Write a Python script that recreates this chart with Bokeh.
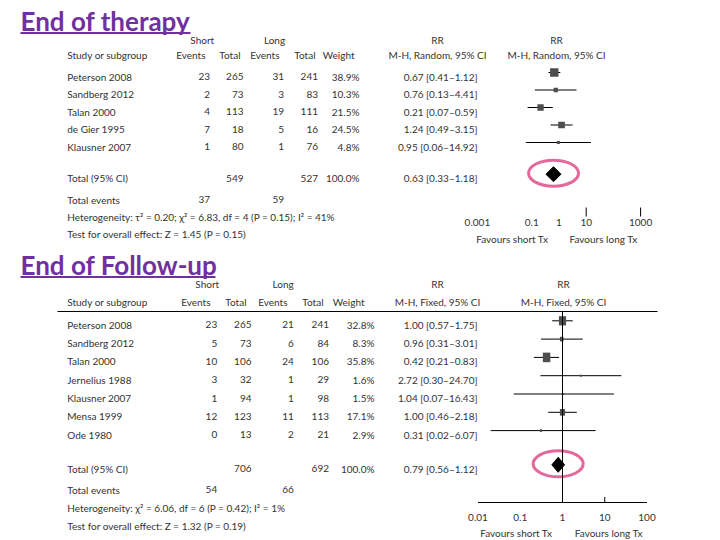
import math
from bokeh.plotting import figure
from bokeh.models import Range1d, LogScale
from bokeh.core.properties import value
from bokeh.embed import file_html
from bokeh.resources import INLINE

# ---------------- data: End of therapy ----------------
therapy_studies = ["Peterson 2008", "Sandberg 2012", "Talan 2000", "de Gier 1995", "Klausner 2007"]
therapy_short_events = [23, 2, 4, 7, 1]
therapy_short_total = [265, 73, 113, 18, 80]
therapy_long_events = [31, 3, 19, 5, 1]
therapy_long_total = [241, 83, 111, 16, 76]
therapy_weight = [38.9, 10.3, 21.5, 24.5, 4.8]
therapy_rr = [0.67, 0.76, 0.21, 1.24, 0.95]
therapy_lo = [0.41, 0.13, 0.07, 0.49, 0.06]
therapy_hi = [1.12, 4.41, 0.59, 3.15, 14.92]
therapy_totals = [549, 527]
therapy_pooled = [0.63, 0.33, 1.18]
therapy_events = [37, 59]
therapy_het = "Heterogeneity: τ² = 0.20; χ² = 6.83, df = 4 (P = 0.15); I² = 41%"
therapy_test = "Test for overall effect: Z = 1.45 (P = 0.15)"
therapy_tick_labels = [0.001, 0.1, 1, 10, 1000]
therapy_tick_marks = [10, 1000]

# ---------------- data: End of Follow-up ----------------
follow_studies = ["Peterson 2008", "Sandberg 2012", "Talan 2000", "Jernelius 1988",
                  "Klausner 2007", "Mensa 1999", "Ode 1980"]
follow_short_events = [23, 5, 10, 3, 1, 12, 0]
follow_short_total = [265, 73, 106, 32, 94, 123, 13]
follow_long_events = [21, 6, 24, 1, 1, 11, 2]
follow_long_total = [241, 84, 106, 29, 98, 113, 21]
follow_weight = [32.8, 8.3, 35.8, 1.6, 1.5, 17.1, 2.9]
follow_rr = [1.00, 0.96, 0.42, 2.72, 1.04, 1.00, 0.31]
follow_lo = [0.57, 0.31, 0.21, 0.30, 0.07, 0.46, 0.02]
follow_hi = [1.75, 3.01, 0.83, 24.70, 16.43, 2.18, 6.07]
follow_totals = [706, 692]
follow_pooled = [0.79, 0.56, 1.12]
follow_events = [54, 66]
follow_het = "Heterogeneity: χ² = 6.06, df = 6 (P = 0.42); I² = 1%"
follow_test = "Test for overall effect: Z = 1.32 (P = 0.19)"
follow_tick_labels = [0.01, 0.1, 1, 10, 100]
follow_tick_marks = [10]

# ---------------- figure ----------------
W, H = 720, 540
X0, Y0 = 0, 0
p = figure(width=W, height=H, x_range=Range1d(X0, X0 + W), y_range=Range1d(Y0 + H, Y0),
           output_backend="svg", toolbar_location=None, min_border=0,
           x_axis_location=None, y_axis_location=None)
p.grid.visible = False
p.outline_line_color = None


def log_range(x_at_one, px_per_decade):
    lo = 10 ** ((X0 - x_at_one) / px_per_decade)
    hi = 10 ** ((X0 + W - x_at_one) / px_per_decade)
    return Range1d(lo, hi)


p.extra_x_ranges = {"top": log_range(558.5, 27.2), "bot": log_range(562.0, 42.25)}
p.extra_x_scales = {"top": LogScale(), "bot": LogScale()}

FONT = value("Lato")
TEXT = "#333333"
PURPLE = "#7030A0"
PINK = "#E5689C"
SQUARE = "#4d4d4d"


def txt(x, y, s, align="left", size="10px", color=TEXT, xr="default", style="normal"):
    if not isinstance(x, list):
        x, y, s = [x], [y], [s]
    p.text(x=x, y=y, text=s, text_align=align, text_baseline="middle",
           text_font_size=size, text_color=color, text_font=FONT,
           text_font_style=style, x_range_name=xr)


def fmt_ci(r, lo, hi):
    return f"{r:.2f} [{lo:.2f}\u2013{hi:.2f}]"


def section(L, title, studies, se, st, le, lt, wt, rr, lo, hi, totals, pooled, events,
            het, test, method, tick_labels, tick_marks):
    # title (underlined)
    p.text(x=[L["title_x"]], y=[L["title_y"]], text=[title], text_font=FONT,
           text_font_style="bold", text_font_size="26px", text_color=PURPLE,
           text_baseline="middle")
    p.segment(x0=[L["title_x"]], x1=[L["title_x1"]], y0=[L["uline_y"]],
              y1=[L["uline_y"]], line_color=PURPLE, line_width=2)
    c = L["cols"]
    hc = L["hcols"]
    # group headers
    txt(L["short_c"], L["gy"], "Short", "center")
    txt(L["long_c"], L["gy"], "Long", "center")
    txt(L["rr_c"], L["gy"], "RR", "center")
    txt(L["rr2_c"], L["gy"], "RR", "center")
    # column headers
    hy = L["hy"]
    txt(c["study"], hy, "Study or subgroup")
    txt([hc["se"], hc["st"], hc["le"], hc["lt"], hc["w"]], [hy] * 5,
        ["Events", "Total", "Events", "Total", "Weight"], "right")
    txt(L["rr_c"], hy, method, "center")
    txt(L["rr2_c"], hy, method, "center")
    # rows
    n = len(studies)
    ys = [L["row0"] + i * L["dy"] for i in range(n)]
    txt([c["study"]] * n, ys, studies)
    txt([c["se"]] * n, ys, [str(v) for v in se], "right")
    txt([c["st"]] * n, ys, [str(v) for v in st], "right")
    txt([c["le"]] * n, ys, [str(v) for v in le], "right")
    txt([c["lt"]] * n, ys, [str(v) for v in lt], "right")
    txt([c["w"]] * n, ys, [f"{v:.1f}%" for v in wt], "right")
    txt([c["rr"]] * n, ys, [fmt_ci(a, b, d) for a, b, d in zip(rr, lo, hi)], "right")
    # totals
    ty = L["ty"]
    txt(c["study"], ty, "Total (95% CI)")
    txt(c["st"], ty, str(totals[0]), "right")
    txt(c["lt"], ty, str(totals[1]), "right")
    txt(c["w"], ty, f"{sum(wt):.1f}%", "right")
    txt(c["rr"], ty, fmt_ci(*pooled), "right")
    txt(c["study"], L["ey"], "Total events")
    txt([c["se"], c["le"]], [L["ey"]] * 2, [str(v) for v in events], "right")
    txt(c["study"], L["hety"], het)
    txt(c["study"], L["testy"], test)

    # forest plot
    xr = L["xr"]
    my = [y + L["moff"] for y in ys]
    p.segment(x0=lo, x1=hi, y0=my, y1=my, line_color="black", line_width=1, x_range_name=xr)
    ws = [max(L["minsq"], L["kw"] * math.sqrt(w)) for w in wt]
    hs = [max(L["minsq"], L["kh"] * math.sqrt(w)) for w in wt]
    p.rect(x=rr, y=my, width=ws, height=hs, width_units="screen", height_units="screen",
           fill_color=SQUARE, line_color=None, x_range_name=xr)
    dy = ty + L["moff"]
    est, plo, phi = pooled
    p.patch(x=[plo, est, phi, est], y=[dy, dy - 7.5, dy, dy + 7.5], fill_color="black",
            line_color="black", x_range_name=xr)
    p.ellipse(x=[est], y=[dy - 1], width=[50], height=[26], width_units="screen",
              height_units="screen", fill_color=None, line_color=PINK, line_width=3,
              x_range_name=xr)
    # axis
    ay = L["axis_y"]
    if L["axis_line"]:
        p.segment(x0=[tick_labels[0]], x1=[tick_labels[-1]], y0=[ay], y1=[ay],
                  line_color="black", line_width=1, x_range_name=xr)
        p.segment(x0=[1], x1=[1], y0=[L["vline_top"]], y1=[ay], line_color="black",
                  line_width=1, x_range_name=xr)
    p.segment(x0=tick_marks, x1=tick_marks, y0=[L["tick_y0"]] * len(tick_marks),
              y1=[L["tick_y1"]] * len(tick_marks), line_color="black", line_width=1,
              x_range_name=xr)
    txt(tick_labels, [L["label_y"]] * len(tick_labels), [f"{v:g}" for v in tick_labels],
        "center", xr=xr)
    txt([L["fav_short"], L["fav_long"]], [L["fav_y"]] * 2,
        ["Favours short Tx", "Favours long Tx"], "center")


top_layout = dict(
    title_x=20, title_x1=190, title_y=20, uline_y=32.5,
    short_c=201.7, long_c=274, rr_c=437, rr2_c=556, gy=39, hy=54,
    cols=dict(study=66.7, se=209.5, st=243, le=283.5, lt=317.5, w=359, rr=477),
    hcols=dict(se=205, st=240, le=279, lt=315, w=354),
    row0=76, dy=17.5, ty=177.7, ey=199, hety=216, testy=233.7,
    xr="top", moff=-4, kw=1.35, kh=1.35, minsq=2.6,
    axis_line=False, axis_y=216, vline_top=0, tick_y0=207, tick_y1=216,
    label_y=222, fav_short=511.7, fav_long=603, fav_y=238,
)
section(top_layout, "End of therapy", therapy_studies, therapy_short_events,
        therapy_short_total, therapy_long_events, therapy_long_total, therapy_weight,
        therapy_rr, therapy_lo, therapy_hi, therapy_totals, therapy_pooled, therapy_events,
        therapy_het, therapy_test, "M-H, Random, 95% CI", therapy_tick_labels,
        therapy_tick_marks)

bot_layout = dict(
    title_x=20, title_x1=215, title_y=264, uline_y=276.5,
    short_c=206.7, long_c=282.7, rr_c=437, rr2_c=563, gy=283.3, hy=301.7,
    cols=dict(study=66.7, se=216.7, st=251, le=293.3, lt=328.5, w=374, rr=477),
    hcols=dict(se=210, st=246, le=287, lt=323, w=364),
    row0=324.3, dy=18.3, ty=468.3, ey=489.3, hety=507.3, testy=525.7,
    xr="bot", moff=-4, kw=1.25, kh=1.6, minsq=2.0,
    axis_line=True, axis_y=502, vline_top=311, tick_y0=496.5, tick_y1=502,
    label_y=517.3, fav_short=515.7, fav_long=608.3, fav_y=532,
)
section(bot_layout, "End of Follow-up", follow_studies, follow_short_events,
        follow_short_total, follow_long_events, follow_long_total, follow_weight,
        follow_rr, follow_lo, follow_hi, follow_totals, follow_pooled, follow_events,
        follow_het, follow_test, "M-H, Fixed, 95% CI", follow_tick_labels,
        follow_tick_marks)

# header rule of the follow-up table
p.segment(x0=[57], x1=[657], y0=[311], y1=[311], line_color="black", line_width=1)

open("out.html", "w").write(file_html(p, INLINE))
